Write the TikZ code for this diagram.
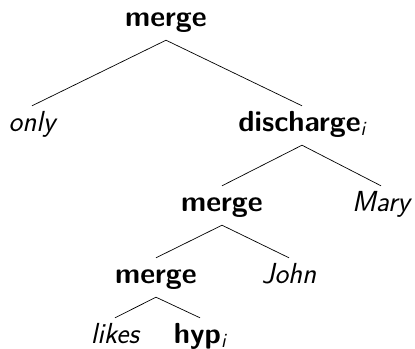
\documentclass[tikz,border=0pt]{standalone}
\begin{document}
\begin{tikzpicture}[x=1bp,y=-1bp,
  every node/.style={font=\fontsize{29bp}{34bp}\selectfont\sffamily, anchor=base, inner sep=4bp, text height=21bp, text depth=10bp},
  op/.style={font=\fontsize{29bp}{34bp}\selectfont\sffamily\bfseries},
  lex/.style={font=\fontsize{29bp}{34bp}\selectfont\sffamily\itshape},
  edge/.style={line width=0.7bp}]
\useasboundingbox (0,0) rectangle (415,349);
\node[op] (root) at (166,26) {merge};
\node[lex] (only) at (32,131) {only};
\node[op] (dis) at (302,131) {discharge\textsubscript{\mdseries\itshape i}};
\node[op] (m2) at (222,211) {merge};
\node[lex] (mary) at (381,211) {Mary};
\node[op] (m3) at (156,283) {merge};
\node[lex] (john) at (289,283) {John};
\node[lex] (likes) at (115,343) {likes};
\node[op] (hyp) at (200,343) {hyp\textsubscript{\mdseries\itshape i}};
\draw[edge] (root.south) -- (only.north);
\draw[edge] (root.south) -- (dis.north);
\draw[edge] (dis.south) -- (m2.north);
\draw[edge] (dis.south) -- (mary.north);
\draw[edge] (m2.south) -- (m3.north);
\draw[edge] (m2.south) -- (john.north);
\draw[edge] (m3.south) -- (likes.north);
\draw[edge] (m3.south) -- (hyp.north);
\end{tikzpicture}
\end{document}
